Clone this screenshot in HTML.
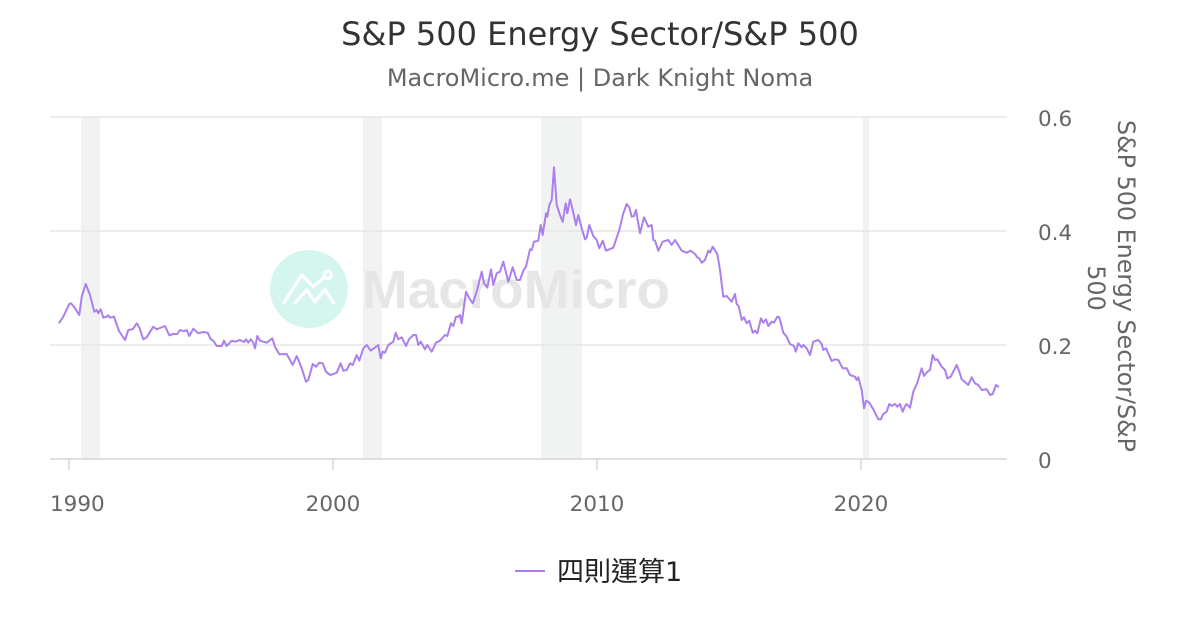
<!DOCTYPE html>
<html>
<head>
<meta charset="utf-8">
<style>
  html,body{margin:0;padding:0;background:#fff;}
  body{width:1200px;height:630px;overflow:hidden;}
  svg{display:block;}
  text{font-family:"DejaVu Sans","Liberation Sans","Noto Sans CJK TC",sans-serif;}
</style>
</head>
<body>
<svg width="1200" height="630" viewBox="0 0 1200 630" xmlns="http://www.w3.org/2000/svg">
  <rect x="0" y="0" width="1200" height="630" fill="#ffffff"/>

  <!-- Title -->
  <text x="600" y="45" text-anchor="middle" font-size="32" fill="#333333">S&amp;P 500 Energy Sector/S&amp;P 500</text>
  <text x="600" y="86" text-anchor="middle" font-size="24" fill="#666666">MacroMicro.me | Dark Knight Noma</text>

  <!-- Recession bands -->
  <g fill="#f1f3f3">
    <rect x="81" y="117" width="19" height="342"/>
    <rect x="363" y="117" width="19" height="342"/>
    <rect x="541" y="117" width="41" height="342"/>
    <rect x="863" y="117" width="6" height="342"/>
  </g>

  <!-- Grid lines -->
  <g stroke="#e6e6e6" stroke-width="1.5">
    <line x1="50" y1="117" x2="1007" y2="117"/>
    <line x1="50" y1="231" x2="1007" y2="231"/>
    <line x1="50" y1="345" x2="1007" y2="345"/>
  </g>
  <line x1="50" y1="459" x2="1007" y2="459" stroke="#d6d6d6" stroke-width="1.5"/>
  <g stroke="#d6d6d6" stroke-width="1.5">
    <line x1="69" y1="459" x2="69" y2="470"/>
    <line x1="333" y1="459" x2="333" y2="470"/>
    <line x1="597" y1="459" x2="597" y2="470"/>
    <line x1="861" y1="459" x2="861" y2="470"/>
  </g>

  <!-- Watermark -->
  <circle cx="309" cy="289" r="39" fill="#d5f6ef"/>
  <g fill="none" stroke="#ffffff" stroke-width="3.2" stroke-linecap="round" stroke-linejoin="round">
    <polyline points="284,302.7 301.7,275 313.3,286.7 324.5,277"/>
    <circle cx="327.7" cy="275" r="3.6"/>
    <polyline points="295,302.7 306.7,290 315,301.7 325,289.3 333.3,302.7"/>
  </g>
  <text x="362" y="308" font-weight="bold" font-size="54" fill="#e6e6e6" textLength="308" lengthAdjust="spacingAndGlyphs" style="font-family:'Liberation Sans',sans-serif">MacroMicro</text>

  <!-- Series -->
  <polyline fill="none" stroke="#ab80ee" stroke-width="2" stroke-linejoin="round" stroke-linecap="round"
    points="59.3,322.7 63.3,316.7 69.3,304 71,303.3 75,308.3 79.3,315 81.7,296.7 85.7,284 90,295 94.3,311.7 96.7,310 98.3,313.3 100.7,309.3 103.3,317.7 106.7,316.7 108.3,315.3 110,317.7 114,316.7 119,331 125,340 128.3,330 132.7,329.3 136.7,323.3 139.3,327.3 143.3,339.3 146.7,337.3 153.3,326.7 156.7,329.3 165,326 169.3,335.3 173.3,334 177.3,334 180,330 184,331.3 186.7,330 189.3,336 193.3,328.7 198.3,333.3 203.3,332 207.7,332.7 210.7,339.3 213.3,340.7 216.7,346 221.7,346 224,340.7 226.7,346 231.7,340.7 235,341.7 240,340 244,342 246,339.3 248.3,342.7 250.7,339.3 253.3,342.7 255,348.3 257.3,336 260,340.7 266.7,342.7 272.3,338.3 275,346.7 279.3,354.3 286.7,354 292.7,365 296.7,356 301.7,368.3 306,381.7 308.3,380 312.7,364 316,366.7 319.3,362.7 322.7,363.3 326,371.7 330,375 333.3,374 336.7,372.7 340.7,363.3 343.3,370.7 346.7,370 350,363.3 352.7,365 356.7,355 359.3,360.7 363.3,348.3 366.7,345 370.7,350.7 378.3,345 380.7,358.3 382.7,351.7 385,352.7 388.3,345 393.3,341.7 395.7,332.7 398.3,339.3 401.7,337.3 406,346 409,339.3 413.3,335 416,335 418.3,345 420.7,341.7 425,349.3 427.3,345 431.7,351.7 436,342.7 440,340.7 445,335 447.3,336 451,323.3 453.3,326 456,316.7 458.3,316.7 460,315 461.7,323.3 466,291.7 469.3,298.3 472.7,303.3 476.7,291.7 481.7,271.7 484,283.3 487.3,287.7 491,269.3 493.3,285 496.7,273.3 500,271.7 503.3,261.7 508.3,281.7 512.7,267.3 516.7,280 520,280 523.3,270.7 526,266.7 530,249.3 531.7,250 534,241.7 538.3,240.7 540.7,225 542.7,235 546,213.3 547.3,216.7 549.3,205 551.7,200 554,167.3 556.7,205 560,215 562.7,221.7 565.7,203.3 567.3,213.3 570,199.3 572.7,210 576,225 578.3,215 581.7,228.3 585,239.3 586.7,237.3 589.3,225 593.3,236 596.7,240 599.3,248.3 602.7,240.7 606,250.7 613.3,247.7 619.3,230 623.3,213.3 626.7,204 629.3,207.3 631.7,216.7 634,216 636,210 640,233.3 644,217.3 648.3,226.7 651.7,225 653.3,240 655,240.7 658.3,250.7 662.7,241.7 668.3,240 671.7,245 675,240 681.7,250.7 686.7,252.7 690.7,250.7 695,254 697.3,257.3 699.3,258.3 701.7,262.7 705,260 708.3,250.7 710,252.7 712.7,246.7 717.3,254 720,270 723.3,296.7 726.7,296 731.7,301.7 735,294 736.7,304 738.7,306 741.7,320 744,317.3 746.7,323.3 749.3,320.7 752.7,332.7 755,330.7 757.3,333.3 761,318.3 763.3,322.7 766,319.3 768.3,326 771.7,321.7 774,322.7 777.3,316.7 779.3,317.3 783.3,332.7 786.7,336.7 790,344 794,346 795.7,351.7 798.3,343.3 801.7,347.3 803.3,345 806.7,348.3 810,355 813.3,341.7 818.3,340 821.7,344 823.3,350 826,348.3 831.7,361 835,359.3 838.3,360 842.7,368.3 846.7,368.3 850,375 855,376.7 856.7,380 858.3,377.3 861.7,390 864,408.3 866,400.7 869.3,402.7 873.3,409.3 878.3,419.3 880.7,419.3 883.3,414 886.7,411.7 889.3,404 891.7,406 895,404 897.3,406.7 900,404 902.7,411.7 905,406 906.7,404 910,407.7 913.3,391.7 917.3,382.7 921.7,368.3 924,376 927.3,371.7 930,370 932.7,355 935,360 937.3,359.3 941.7,366.7 945,370 947.3,378.3 950.7,376.7 956.7,365 959.3,371.7 961.7,379.3 968.3,385 971.7,377.3 975,383.3 978.3,385 981.7,390 986.7,389.3 990,395 992.7,394 996,385 998.3,386.7"/>

  <!-- Y axis labels -->
  <g font-size="21.5" fill="#666666">
    <text x="1038" y="126">0.6</text>
    <text x="1038" y="240">0.4</text>
    <text x="1038" y="354">0.2</text>
    <text x="1038" y="468">0</text>
  </g>

  <!-- X axis labels -->
  <g font-size="21.5" fill="#666666">
    <text x="50" y="511">1990</text>
    <text x="333" y="511" text-anchor="middle">2000</text>
    <text x="597" y="511" text-anchor="middle">2010</text>
    <text x="861" y="511" text-anchor="middle">2020</text>
  </g>

  <!-- Y axis title -->
  <g font-size="23.8" fill="#666666">
    <text transform="translate(1118,286) rotate(90)" text-anchor="middle">S&amp;P 500 Energy Sector/S&amp;P</text>
    <text transform="translate(1088,288) rotate(90)" text-anchor="middle">500</text>
  </g>

  <!-- Legend -->
  <line x1="515" y1="571" x2="545" y2="571" stroke="#ab80ee" stroke-width="2"/>
  <text x="557" y="581" font-size="27" fill="#222222" style="font-family:'DejaVu Sans','Noto Sans CJK TC',sans-serif">四則運算1</text>
</svg>
</body>
</html>
